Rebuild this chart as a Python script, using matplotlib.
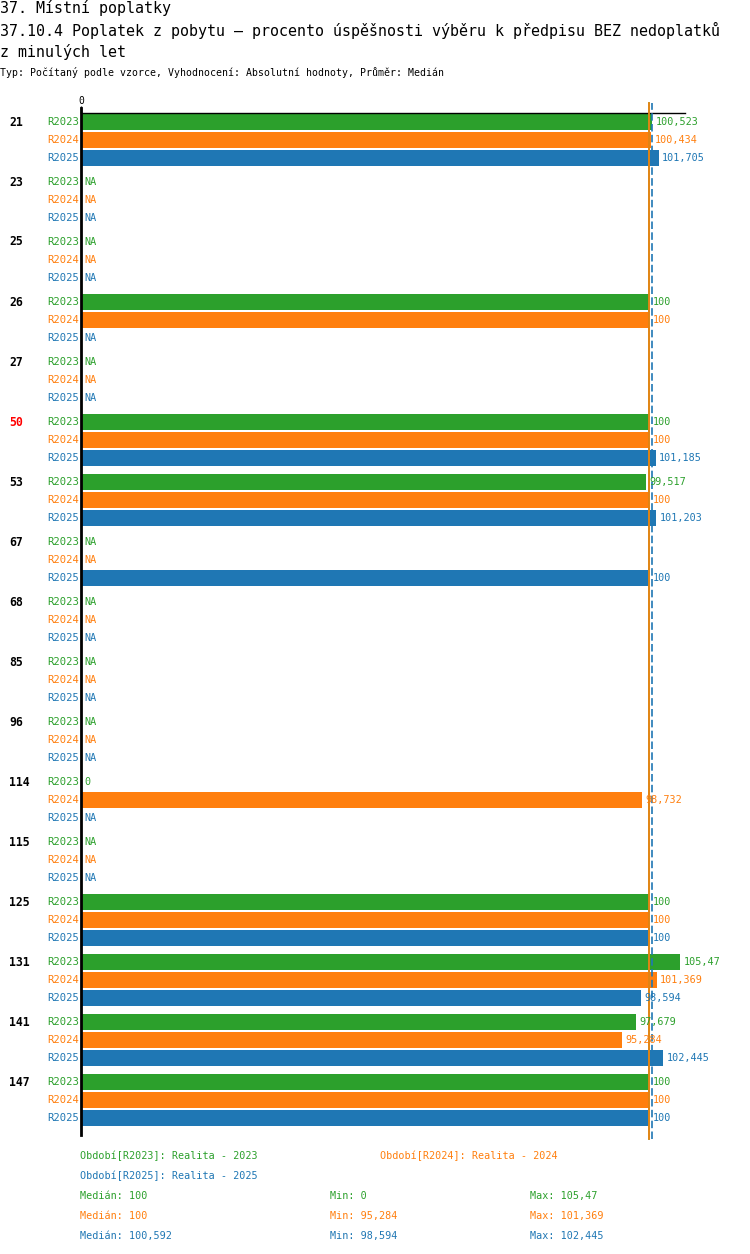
import matplotlib
matplotlib.use("Agg")
import matplotlib.pyplot as plt
import numpy as np

# ---- data ----
groups = ["21", "23", "25", "26", "27", "50", "53", "67", "68", "85", "96",
          "114", "115", "125", "131", "141", "147"]
highlight = ["50"]
series = ["R2023", "R2024", "R2025"]
nan = None
r2023 = [100.523, nan, nan, 100, nan, 100, 99.517, nan, nan, nan, nan,
         0, nan, 100, 105.47, 97.679, 100]
r2024 = [100.434, nan, nan, 100, nan, 100, 100, nan, nan, nan, nan,
         98.732, nan, 100, 101.369, 95.284, 100]
r2025 = [101.705, nan, nan, nan, nan, 101.185, 101.203, 100, nan, nan, nan,
         nan, nan, 100, 98.594, 102.445, 100]
medians = [100, 100, 100.592]
mins = [0, 95.284, 98.594]
maxs = [105.47, 101.369, 102.445]
legend_labels = ["Období[R2023]: Realita - 2023", "Období[R2024]: Realita - 2024",
                 "Období[R2025]: Realita - 2025"]
colors = ["#2ca02c", "#ff7f0e", "#1f77b4"]
values = [r2023, r2024, r2025]

title1 = "37. Místní poplatky"
title2 = "37.10.4 Poplatek z pobytu – procento úspěšnosti výběru k předpisu BEZ nedoplatků"
title3 = "z minulých let"
subtitle = "Typ: Počítaný podle vzorce, Vyhodnocení: Absolutní hodnoty, Průměr: Medián"

W, H = 750, 1254
MONO = ["DejaVu Sans Mono"]


def fmt(v):
    s = f"{v:.3f}".rstrip("0").rstrip(".")
    return s.replace(".", ",")


def P(x, y):
    return (x / W, 1 - y / H)


fig = plt.figure(figsize=(W / 100, H / 100), dpi=100)
fig.patch.set_facecolor("white")

# titles
fig.text(*P(0, 8), title1, fontsize=10.8, family=MONO, va="center", ha="left")
fig.text(*P(0, 30), title2, fontsize=10.8, family=MONO, va="center", ha="left")
fig.text(*P(0, 52), title3, fontsize=10.8, family=MONO, va="center", ha="left")
fig.text(*P(0, 73), subtitle, fontsize=7.15, family=MONO, va="center", ha="left")

# axes in pixel-like layout
ax_left, ax_right, ax_top, ax_bot = 81, 685, 113, 1135
ax = fig.add_axes([ax_left / W, 1 - ax_bot / H, (ax_right - ax_left) / W,
                   (ax_bot - ax_top) / H])
px_per_unit = 5.68
ax.set_xlim(0, (ax_right - ax_left) / px_per_unit)
ax.set_ylim(ax_bot, ax_top)

group_step, row_step, first = 60, 18, 122
for gi, g in enumerate(groups):
    for si, s in enumerate(series):
        yc = first + gi * group_step + si * row_step
        v = values[si][gi]
        c = colors[si]
        if v is not None:
            ax.barh(yc, v, height=16, color=c, zorder=2)
            ax.annotate(fmt(v), (v, yc), xytext=(2.5, 0), textcoords="offset points",
                        va="center", ha="left", fontsize=7.3, color=c, family=MONO,
                        annotation_clip=False, zorder=5)
        else:
            ax.annotate("NA", (0, yc), xytext=(2.5, 0), textcoords="offset points",
                        va="center", ha="left", fontsize=7.3, color=c, family=MONO,
                        annotation_clip=False, zorder=5)
        # series label
        fig.text(*P(79, yc), s, fontsize=7.6, family=MONO, color=c,
                 va="center", ha="right")
    gy = first + gi * group_step
    fig.text(*P(9, gy), g, fontsize=8.3, family=MONO, weight="bold",
             color="#ff0000" if g in highlight else "black", va="center", ha="left")

# median lines
line_styles = ["-", "-", (0, (4.5, 2))]
for m, c, ls in zip(medians, colors, line_styles):
    ax.axvline(m, ymin=-0.004, ymax=1 + 10 / (ax_bot - ax_top), color=c,
               lw=1.2, ls=ls, clip_on=False, zorder=4)

# spines
for sp in ["right", "bottom"]:
    ax.spines[sp].set_visible(False)
ax.spines["top"].set_linewidth(1.0)
ax.spines["left"].set_linewidth(2.0)
ax.spines["left"].set_bounds(ax_bot, ax_top - 5)
ax.set_yticks([])
ax.xaxis.tick_top()
ax.set_xticks([0])
ax.set_xticklabels(["0"])
ax.tick_params(axis="x", length=5, width=1, pad=0, labelsize=7, colors="black")
for t in ax.get_xticklabels():
    t.set_family(MONO)

# legend
fig.text(*P(80, 1156), legend_labels[0], fontsize=7.3, family=MONO, color=colors[0],
         va="center", ha="left")
fig.text(*P(380, 1156), legend_labels[1], fontsize=7.3, family=MONO, color=colors[1],
         va="center", ha="left")
fig.text(*P(80, 1176), legend_labels[2], fontsize=7.3, family=MONO, color=colors[2],
         va="center", ha="left")
for i in range(3):
    y = 1196 + 20 * i
    fig.text(*P(80, y), "Medián: " + fmt(medians[i]), fontsize=7.3, family=MONO,
             color=colors[i], va="center", ha="left")
    fig.text(*P(330, y), "Min: " + fmt(mins[i]), fontsize=7.3, family=MONO,
             color=colors[i], va="center", ha="left")
    fig.text(*P(530, y), "Max: " + fmt(maxs[i]), fontsize=7.3, family=MONO,
             color=colors[i], va="center", ha="left")

fig.savefig("out.png", dpi=100, facecolor="white")
